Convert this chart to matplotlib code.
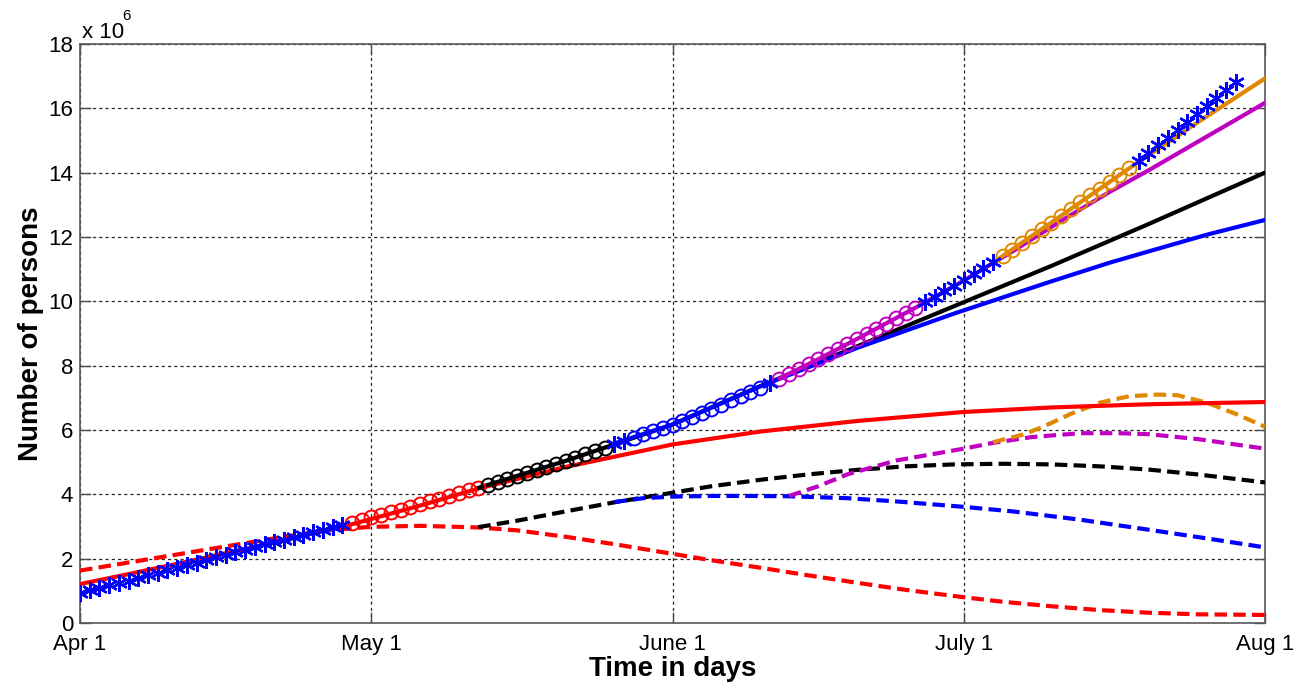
import matplotlib
matplotlib.use("Agg")
from matplotlib import pyplot as plt

plt.rcParams['font.family'] = ['Liberation Sans', 'DejaVu Sans']

# reported cumulative cases, millions, one value per day from Apr 1
CASES = [
    0.93, 1.01, 1.09, 1.17, 1.25, 1.32, 1.40, 1.48, 1.56, 1.64,
    1.72, 1.80, 1.88, 1.96, 2.04, 2.12, 2.20, 2.28, 2.36, 2.44,
    2.52, 2.59, 2.67, 2.75, 2.83, 2.90, 2.97, 3.04, 3.12, 3.20,
    3.28, 3.36, 3.44, 3.52, 3.60, 3.69, 3.78, 3.86, 3.95, 4.03,
    4.12, 4.21, 4.30, 4.39, 4.48, 4.57, 4.66, 4.75, 4.84, 4.94,
    5.04, 5.14, 5.24, 5.34, 5.45, 5.55, 5.65, 5.76, 5.86, 5.97,
    6.07, 6.17, 6.29, 6.41, 6.53, 6.66, 6.79, 6.92, 7.05, 7.18,
    7.32, 7.46, 7.60, 7.75, 7.90, 8.05, 8.20, 8.36, 8.51, 8.67,
    8.83, 8.99, 9.15, 9.31, 9.47, 9.63, 9.80, 9.97, 10.14, 10.31,
    10.49, 10.67, 10.85, 11.03, 11.21, 11.41, 11.61, 11.82, 12.03, 12.24,
    12.45, 12.66, 12.87, 13.08, 13.29, 13.50, 13.71, 13.92, 14.13, 14.37,
    14.61, 14.85, 15.09, 15.33, 15.57, 15.81, 16.06, 16.31, 16.56, 16.81,
]

# fitting windows (first day, last day) shown with circles
WINDOWS = [(28, 41), (42, 54), (57, 70), (72, 86), (95, 108)]
COLORS = ['#ff0000', '#000000', '#0000ff', '#c000c0', '#e08800']

# fitted cumulative curves (solid)
RED_DAYS = [0, 5, 10, 15, 20, 25, 28, 35, 41, 50, 61, 70, 80, 91, 100, 110, 122]
RED_VALS = [1.21, 1.52, 1.84, 2.17, 2.51, 2.85, 3.07, 3.65, 4.18, 4.85, 5.55, 5.95, 6.28, 6.56, 6.70, 6.80, 6.87]
BLACK_DAYS = [41, 50, 55, 61, 70, 80, 90, 100, 110, 122]
BLACK_VALS = [4.20, 5.04, 5.55, 6.17, 7.36, 8.60, 9.85, 11.10, 12.40, 14.00]
BLUE_DAYS = [55, 61, 70, 80, 90, 100, 106, 110, 116, 122]
BLUE_VALS = [5.58, 6.17, 7.35, 8.55, 9.62, 10.62, 11.20, 11.55, 12.07, 12.53]
MAG_DAYS = [72, 76, 80, 86, 91, 96, 101, 106, 110, 116, 122]
MAG_VALS = [7.60, 8.20, 8.83, 9.80, 10.65, 11.55, 12.50, 13.40, 14.07, 15.12, 16.17]
ORANGE_DAYS = [94, 100, 108, 115, 122]
ORANGE_VALS = [11.20, 12.45, 14.13, 15.55, 16.93]

# second model output (dashed)
RED_D_DAYS = [0, 5, 10, 15, 20, 25, 30, 35, 41, 45, 50, 55, 61, 65, 70, 75, 80, 85, 91, 95, 100, 105, 110, 115, 122]
RED_D_VALS = [1.63, 1.88, 2.13, 2.38, 2.63, 2.87, 2.99, 3.02, 2.97, 2.88, 2.68, 2.45, 2.15, 1.95, 1.72, 1.48, 1.25, 1.03, 0.80, 0.66, 0.52, 0.40, 0.32, 0.27, 0.25]
BLACK_D_DAYS = [41, 45, 50, 55, 61, 65, 70, 75, 80, 85, 90, 95, 100, 105, 110, 115, 122]
BLACK_D_VALS = [2.98, 3.18, 3.47, 3.75, 4.05, 4.25, 4.45, 4.62, 4.76, 4.87, 4.93, 4.95, 4.93, 4.87, 4.77, 4.62, 4.37]
BLUE_D_DAYS = [55, 58, 61, 65, 69, 73, 79, 84, 91, 96, 103, 110, 116, 122]
BLUE_D_VALS = [3.76, 3.88, 3.93, 3.95, 3.95, 3.94, 3.88, 3.78, 3.61, 3.47, 3.21, 2.90, 2.63, 2.35]
MAG_D_DAYS = [73, 76, 79, 84, 91, 94, 98, 103, 107, 110, 115, 122]
MAG_D_VALS = [3.95, 4.25, 4.62, 5.05, 5.42, 5.60, 5.78, 5.90, 5.90, 5.87, 5.72, 5.42]
ORANGE_D_DAYS = [94, 97, 99, 102, 105, 108, 111, 113, 116, 119, 122]
ORANGE_D_VALS = [5.62, 5.85, 6.08, 6.50, 6.85, 7.05, 7.10, 7.08, 6.85, 6.50, 6.10]

XTICKS = [0, 30, 61, 91, 122]
XLABELS = ['Apr 1', 'May 1', 'June 1', 'July 1', 'Aug 1']
YTICKS = list(range(0, 19, 2))


def main():
    fig = plt.figure(figsize=(13.06, 6.84), dpi=100)
    ax = fig.add_axes([0.0613, 0.0892, 0.9073, 0.8465])

    solid = [(RED_DAYS, RED_VALS), (BLACK_DAYS, BLACK_VALS), (BLUE_DAYS, BLUE_VALS),
             (MAG_DAYS, MAG_VALS), (ORANGE_DAYS, ORANGE_VALS)]
    dashed = [(RED_D_DAYS, RED_D_VALS), (BLACK_D_DAYS, BLACK_D_VALS), (BLUE_D_DAYS, BLUE_D_VALS),
              (MAG_D_DAYS, MAG_D_VALS), (ORANGE_D_DAYS, ORANGE_D_VALS)]

    # data outside the windows: stars
    inside = set()
    for a, b in WINDOWS:
        inside.update(range(a, b + 1))
    star_x = [d for d in range(len(CASES)) if d not in inside]
    star_y = [CASES[d] for d in star_x]

    for (sx, sy), (dx, dy), (a, b), c in zip(solid, dashed, WINDOWS, COLORS):
        ax.plot(dx, dy, color=c, lw=3.0, ls=(0, (3, 1.5)), zorder=3)
        ax.plot(sx, sy, color=c, lw=3.0, zorder=4)
        wx = list(range(a, b + 1))
        ax.plot(wx, CASES[a:b + 1], ls='none', marker='o', ms=10, mfc='none',
                mec=c, mew=1.4, zorder=5)

    ax.plot(star_x, star_y, ls='none', marker=(6, 2, 0), ms=12, mec='#0000ff',
            mew=1.7, zorder=6)

    ax.set_xlim(0, 122)
    ax.set_ylim(0, 18)
    ax.set_xticks(XTICKS)
    ax.set_xticklabels(XLABELS)
    ax.set_yticks(YTICKS)
    ax.tick_params(direction='in', length=8, width=1, top=True, right=True,
                   labelsize=16, color='0.3')
    ax.tick_params(axis='x', pad=8)
    ax.tick_params(axis='y', pad=5)
    ax.grid(True, color='0.15', ls=(0, (2.5, 2.5)), lw=0.9)
    for s in ax.spines.values():
        s.set_color('0.35')
        s.set_linewidth(1.2)

    ax.set_xlabel('Time in days', fontsize=20, fontweight='bold', labelpad=1)
    ax.set_ylabel('Number of persons', fontsize=20, fontweight='bold', labelpad=3)

    ax.text(0.0015, 1.0104, 'x 10', transform=ax.transAxes, fontsize=16,
            ha='left', va='baseline')
    ax.text(0.0355, 1.0415, '6', transform=ax.transAxes, fontsize=11,
            ha='left', va='baseline')

    fig.savefig('out.png', dpi=100)


if __name__ == '__main__':
    main()
